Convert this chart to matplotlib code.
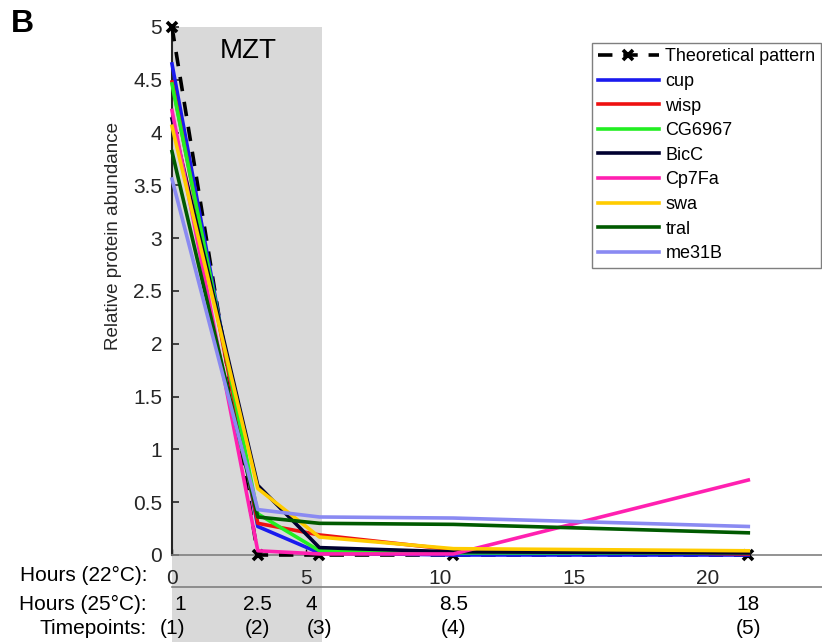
import matplotlib
matplotlib.use("Agg")
import matplotlib.pyplot as plt
from matplotlib.patches import Rectangle
from matplotlib.lines import Line2D
from matplotlib.transforms import blended_transform_factory

plt.rcParams['font.family'] = ['Liberation Sans', 'DejaVu Sans']

# ---- data ----
hours22 = [0, 3.2, 5.5, 10.5, 21.5]
hours25_labels = ['1', '2.5', '4', '8.5', '18']
timepoint_labels = ['(1)', '(2)', '(3)', '(4)', '(5)']
theoretical = [5, 0, 0, 0, 0]

cup    = [4.65, 0.27, 0.02, 0.00, 0.00]
wisp   = [4.48, 0.30, 0.19, 0.05, 0.01]
CG6967 = [4.46, 0.39, 0.04, 0.02, 0.02]
BicC   = [4.13, 0.66, 0.07, 0.03, 0.02]
Cp7Fa  = [4.21, 0.04, 0.01, 0.01, 0.71]
swa    = [4.06, 0.63, 0.17, 0.06, 0.04]
tral   = [3.82, 0.36, 0.30, 0.29, 0.21]
me31B  = [3.56, 0.43, 0.36, 0.35, 0.27]

series_names = ['cup', 'wisp', 'CG6967', 'BicC', 'Cp7Fa', 'swa', 'tral', 'me31B']
series_values = [cup, wisp, CG6967, BicC, Cp7Fa, swa, tral, me31B]
series_colors = ['#1a1aee', '#ee1111', '#22ee22', '#000030', '#ff20b0',
                 '#ffcc00', '#005a00', '#8a8af2']

mzt_end = 5.6

# ---- figure ----
W, H = 822, 642
fig = plt.figure(figsize=(W / 100, H / 100), dpi=100)
ax = fig.add_axes([172 / W, 1 - 555 / H, (W - 172) / W, (555 - 27) / H])
ax.set_xlim(0, 24.25)
ax.set_ylim(0, 5)

# MZT shading extending below axes
tr = blended_transform_factory(ax.transData, fig.transFigure)
rect = Rectangle((0, 0), mzt_end, 1 - 27 / H, transform=tr, facecolor='#d9d9d9',
                 edgecolor='none', clip_on=False, zorder=0)
ax.add_patch(rect)
ax.text(2.85, 4.77, 'MZT', ha='center', va='center', fontsize=20, color='black')

ax.plot(hours22, theoretical, color='black', lw=2.6, linestyle=(0, (4, 3)),
        marker='x', markersize=7, mew=2.6, label='Theoretical pattern',
        clip_on=False, zorder=3)
for name, vals, col in zip(series_names, series_values, series_colors):
    ax.plot(hours22, vals, color=col, lw=2.6, label=name, clip_on=False, zorder=3)

# spines
for s in ['top', 'right']:
    ax.spines[s].set_visible(False)
ax.spines['left'].set_color('#262626')
ax.spines['left'].set_linewidth(1.5)
ax.spines['bottom'].set_color('#808080')
ax.spines['bottom'].set_linewidth(1.2)

ax.set_yticks([0, 0.5, 1, 1.5, 2, 2.5, 3, 3.5, 4, 4.5, 5])
ax.set_yticklabels(['0', '0.5', '1', '1.5', '2', '2.5', '3', '3.5', '4', '4.5', '5'])
ax.set_xticks([0, 5, 10, 15, 20])
ax.tick_params(axis='y', direction='in', length=5, width=1.2, color='#262626',
               labelsize=15, labelcolor='#262626', pad=7)
ax.tick_params(axis='x', direction='in', length=4, width=1, color='black',
               labelsize=15, labelcolor='#262626', pad=10)
ax.set_ylabel('Relative protein abundance', fontsize=13.5, color='#262626')
ax.yaxis.set_label_coords(-0.077, 0.604)

# secondary axis labels
fig.text(147 / W, 1 - 575 / H, 'Hours (22°C):', ha='right', va='center', fontsize=15)
fig.text(147 / W, 1 - 604 / H, 'Hours (25°C):', ha='right', va='center', fontsize=15)
fig.text(147 / W, 1 - 628 / H, 'Timepoints:', ha='right', va='center', fontsize=15)
pos25 = [0.3, 3.2, 5.2, 10.5, 21.5]
for x, lab in zip(pos25, hours25_labels):
    fig.text(x, 1 - 604 / H, lab, transform=tr, ha='center', va='center', fontsize=15)
for x, tp in zip(hours22, timepoint_labels):
    fig.text(x, 1 - 628 / H, tp, transform=tr, ha='center', va='center', fontsize=15)
fig.add_artist(Line2D([172 / W, 1], [1 - 587 / H, 1 - 587 / H], color='#808080', lw=1.2,
                      transform=fig.transFigure))

# panel letter
fig.text(11 / W, 1 - 9 / H, 'B', ha='left', va='top', fontsize=23, fontweight='bold')

leg = ax.legend(loc='upper right', bbox_to_anchor=(821 / W, 1 - 43 / H),
                bbox_transform=fig.transFigure, fontsize=13, frameon=True,
                fancybox=False, framealpha=1, edgecolor='#7f7f7f',
                handlelength=3.4, handletextpad=0.35, labelspacing=0.42,
                borderpad=0.3, borderaxespad=0, numpoints=1)
leg.get_frame().set_linewidth(1.0)

fig.savefig('out.png', dpi=100)
